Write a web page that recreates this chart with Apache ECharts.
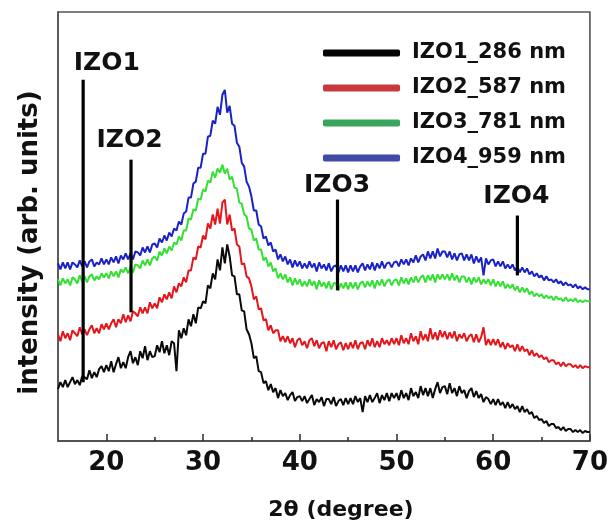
<!DOCTYPE html>
<html>
<head>
<meta charset="utf-8">
<script src="https://cdn.jsdelivr.net/npm/echarts@6/dist/echarts.min.js"></script>
<style>
  html, body { margin: 0; padding: 0; background: #fff; }
  #chart { width: 611px; height: 526px; }
</style>
</head>
<body>
<div id="chart"></div>
<script>
// XRD scans of the IZO films, 2θ from 15° to 70° in 0.25° steps (arb. intensity)
const scanStart = 15;
const scanStep = 0.25;

const izo1 = [
  52,59,54,61,54,59,64,57,61,56,65,64,62,71,63,69,64,72,75,69,
  76,70,80,69,77,84,73,79,73,84,90,78,84,76,90,83,95,81,90,84,
  85,96,89,100,88,96,86,100,98,70,111,103,113,106,122,115,127,118,134,133,
  140,138,156,153,168,162,182,171,194,178,197,185,166,165,147,147,131,130,112,107,
  98,83,85,70,69,58,60,51,57,49,53,43,51,45,48,41,46,49,40,44,
  45,40,45,38,42,46,36,42,39,44,35,42,42,37,44,35,40,42,36,43,
  37,43,37,45,39,43,29,45,39,46,39,43,48,38,46,41,48,40,48,43,
  48,41,51,43,48,41,53,45,49,43,55,46,53,45,53,43,52,59,48,54,
  55,47,58,48,53,45,55,48,51,43,50,53,44,50,43,47,39,44,42,37,
  42,36,42,36,39,33,39,33,37,32,35,29,35,29,32,27,29,23,25,21,
  22,18,20,15,17,17,13,14,11,14,10,12,12,9,11,9,11,8,10,9,
  9
];

const izo2 = [
  107,100,110,103,108,101,111,108,105,114,107,112,106,112,116,108,113,108,117,112,
  118,112,118,122,114,122,118,127,119,126,120,130,128,125,134,128,134,128,139,133,
  138,133,144,139,147,142,149,143,155,149,158,155,164,159,171,171,184,182,195,194,
  206,202,218,213,227,217,233,218,239,242,217,227,211,213,197,195,177,178,165,163,
  155,142,145,132,133,121,122,111,116,108,111,111,100,105,99,105,98,103,94,101,
  103,96,100,93,101,103,95,101,93,98,99,90,100,94,101,92,97,99,91,98,
  92,99,93,101,92,98,99,92,101,95,103,94,100,94,103,97,101,96,103,97,
  103,96,106,98,103,97,108,100,105,97,110,101,107,100,113,102,109,101,111,104,
  110,102,109,103,110,100,107,103,108,100,105,107,99,107,99,104,114,96,102,96,
  102,96,102,94,99,92,98,94,96,90,97,90,95,90,92,86,91,85,88,84,
  86,82,84,79,81,81,77,79,75,79,75,77,77,74,76,73,76,73,75,74,
  74
];

const izo3 = [
  162,156,163,158,162,156,164,162,158,166,160,165,159,165,167,161,165,162,168,164,
  168,163,170,165,170,164,172,169,174,168,174,169,177,176,173,181,176,182,176,183,
  185,181,190,186,193,188,195,191,199,197,205,201,211,211,223,222,232,231,243,242,
  252,250,261,259,270,264,273,269,277,268,273,262,265,254,253,239,238,227,225,213,
  212,201,203,192,192,181,184,175,179,170,173,163,168,162,167,159,164,156,163,157,
  162,155,160,155,162,156,160,152,161,155,159,153,160,152,158,158,151,158,153,159,
  152,159,153,159,152,158,160,154,160,155,161,153,161,156,162,155,160,162,156,161,
  162,156,164,158,163,157,164,159,165,159,164,166,159,166,161,167,159,167,162,167,
  162,167,161,168,161,166,159,165,165,159,164,157,164,159,164,157,162,158,162,156,
  162,155,160,155,160,153,157,153,157,151,155,149,154,149,153,147,150,145,148,145,
  147,143,146,143,145,141,145,142,143,140,144,140,142,140,143,139,141,139,141,140,
  140
];

const izo4 = [
  178,172,179,173,179,172,179,177,174,181,175,180,174,180,182,175,179,177,183,177,
  182,177,184,179,185,178,186,182,188,182,188,182,190,189,186,194,189,195,189,197,
  198,194,203,199,206,201,209,205,213,211,220,217,228,230,244,244,258,260,274,274,
  288,288,305,306,321,318,335,327,347,352,329,336,318,316,299,295,279,275,260,255,
  245,231,231,217,215,203,205,196,199,190,192,182,187,180,185,177,182,174,181,175,
  180,173,178,173,180,174,178,170,179,173,177,171,178,170,175,176,169,176,170,176,
  169,176,170,176,169,175,178,171,177,172,179,171,178,173,180,173,178,179,174,179,
  180,175,182,177,182,176,183,179,186,179,185,187,181,190,183,190,183,193,185,190,
  190,184,190,182,188,181,187,188,181,187,181,187,178,185,179,184,166,183,177,181,
  182,175,180,175,180,173,177,173,177,171,175,169,174,169,173,167,170,165,168,164,
  166,161,165,161,162,159,162,158,160,156,159,156,157,154,157,153,155,152,154,152,
  152
];

const seriesNames = ['IZO1_286 nm', 'IZO2_587 nm', 'IZO3_781 nm', 'IZO4_959 nm'];
const seriesValues = [izo1, izo2, izo3, izo4];

// Sample labels with their marker bars (bar position, bar bottom/top, label position)
const markerNames = ['IZO1', 'IZO2', 'IZO3', 'IZO4'];
const markerAngles = [17.6, 22.55, 43.9, 62.5];
const markerLow = [59, 129, 151, 166];
const markerHigh = [362, 282, 242, 226];
const labelAngles = [20.05, 22.4, 43.85, 62.4];
const labelLevels = [378, 301, 256, 245];

const xLabelTicks = [20, 30, 40, 50, 60, 70];
const xMinorTicks = [25, 35, 45, 55, 65];

const FONT = '"DejaVu Sans", sans-serif';
const lineColors = ['#0a0a0a', '#e3161c', '#33e033', '#1a22c6'];
const legendColors = ['#050505', '#c8383c', '#3ba55e', '#3f4ba6'];

function toPoints(values) {
  return values.map((v, i) => [scanStart + i * scanStep, v]);
}

const chart = echarts.init(document.getElementById('chart'), null, { renderer: 'canvas' });

const curveSeries = seriesValues.map((vals, i) => ({
  name: seriesNames[i],
  type: 'line',
  xAxisIndex: 0,
  yAxisIndex: 0,
  data: toPoints(vals),
  showSymbol: false,
  symbol: 'none',
  sampling: null,
  animation: false,
  z: 3 + (3 - i),
  lineStyle: { color: lineColors[i], width: 2 },
  itemStyle: { color: lineColors[i] }
}));

const markerData = markerNames.map((n, i) => [markerAngles[i], markerLow[i], markerHigh[i], labelAngles[i], labelLevels[i]]);

const markerSeries = {
  name: 'markers',
  type: 'custom',
  xAxisIndex: 0,
  yAxisIndex: 0,
  data: markerData,
  clip: false,
  z: 10,
  animation: false,
  renderItem(params, api) {
    const a = api.coord([api.value(0), api.value(1)]);
    const b = api.coord([api.value(0), api.value(2)]);
    const t = api.coord([api.value(3), api.value(4)]);
    return {
      type: 'group',
      children: [
        { type: 'line', shape: { x1: a[0], y1: a[1], x2: b[0], y2: b[1] },
          style: { stroke: '#000', lineWidth: 3.2 } },
        { type: 'text', x: t[0], y: t[1],
          style: { text: markerNames[params.dataIndex], font: 'bold 25px ' + FONT,
                   fill: '#111', align: 'center', verticalAlign: 'middle' } }
      ]
    };
  }
};

chart.setOption({
  backgroundColor: '#fff',
  animation: false,
  grid: {
    left: 58, right: 19, top: 12, bottom: 84,
    show: true, borderColor: '#555', borderWidth: 1.6, backgroundColor: 'transparent'
  },
  legend: {
    orient: 'vertical',
    left: 318,
    top: 36,
    itemWidth: 77,
    itemHeight: 7,
    itemGap: 11,
    icon: 'roundRect',
    selectedMode: false,
    textStyle: { fontFamily: FONT, fontWeight: 'bold', fontSize: 21, color: '#111',
                 lineHeight: 24, padding: [0, 0, 0, 7] },
    data: seriesNames.map((n, i) => ({ name: n, itemStyle: { color: legendColors[i] } }))
  },
  xAxis: [
    {
      type: 'value', min: 15, max: 70,
      name: '2θ (degree)', nameLocation: 'middle', nameGap: 58,
      nameTextStyle: { fontFamily: FONT, fontWeight: 'bold', fontSize: 22, color: '#111',
                       padding: [0, 0, 0, 34] },
      axisLine: { show: true, lineStyle: { color: '#444', width: 1.6 } },
      axisTick: { show: true, inside: true, length: 7, customValues: xLabelTicks,
                  lineStyle: { color: '#333', width: 1.6 } },
      axisLabel: { show: true, customValues: xLabelTicks, margin: 9,
                   fontFamily: FONT, fontWeight: 'bold', fontSize: 26, color: '#111' },
      splitLine: { show: false }
    },
    {
      type: 'value', min: 15, max: 70, position: 'bottom',
      axisLine: { show: false },
      axisTick: { show: true, inside: true, length: 4, customValues: xMinorTicks,
                  lineStyle: { color: '#333', width: 1.6 } },
      axisLabel: { show: false },
      splitLine: { show: false }
    }
  ],
  yAxis: {
    type: 'value', min: 0, max: 430,
    name: 'intensity (arb. units)', nameLocation: 'middle', nameGap: 15,
    nameTextStyle: { fontFamily: FONT, fontWeight: 'bold', fontSize: 26, color: '#111',
                     padding: [0, 32, 0, 0] },
    axisLine: { show: true, lineStyle: { color: '#555', width: 1.6 } },
    axisTick: { show: false },
    axisLabel: { show: false },
    splitLine: { show: false }
  },
  series: [...curveSeries, markerSeries]
});
</script>
</body>
</html>
